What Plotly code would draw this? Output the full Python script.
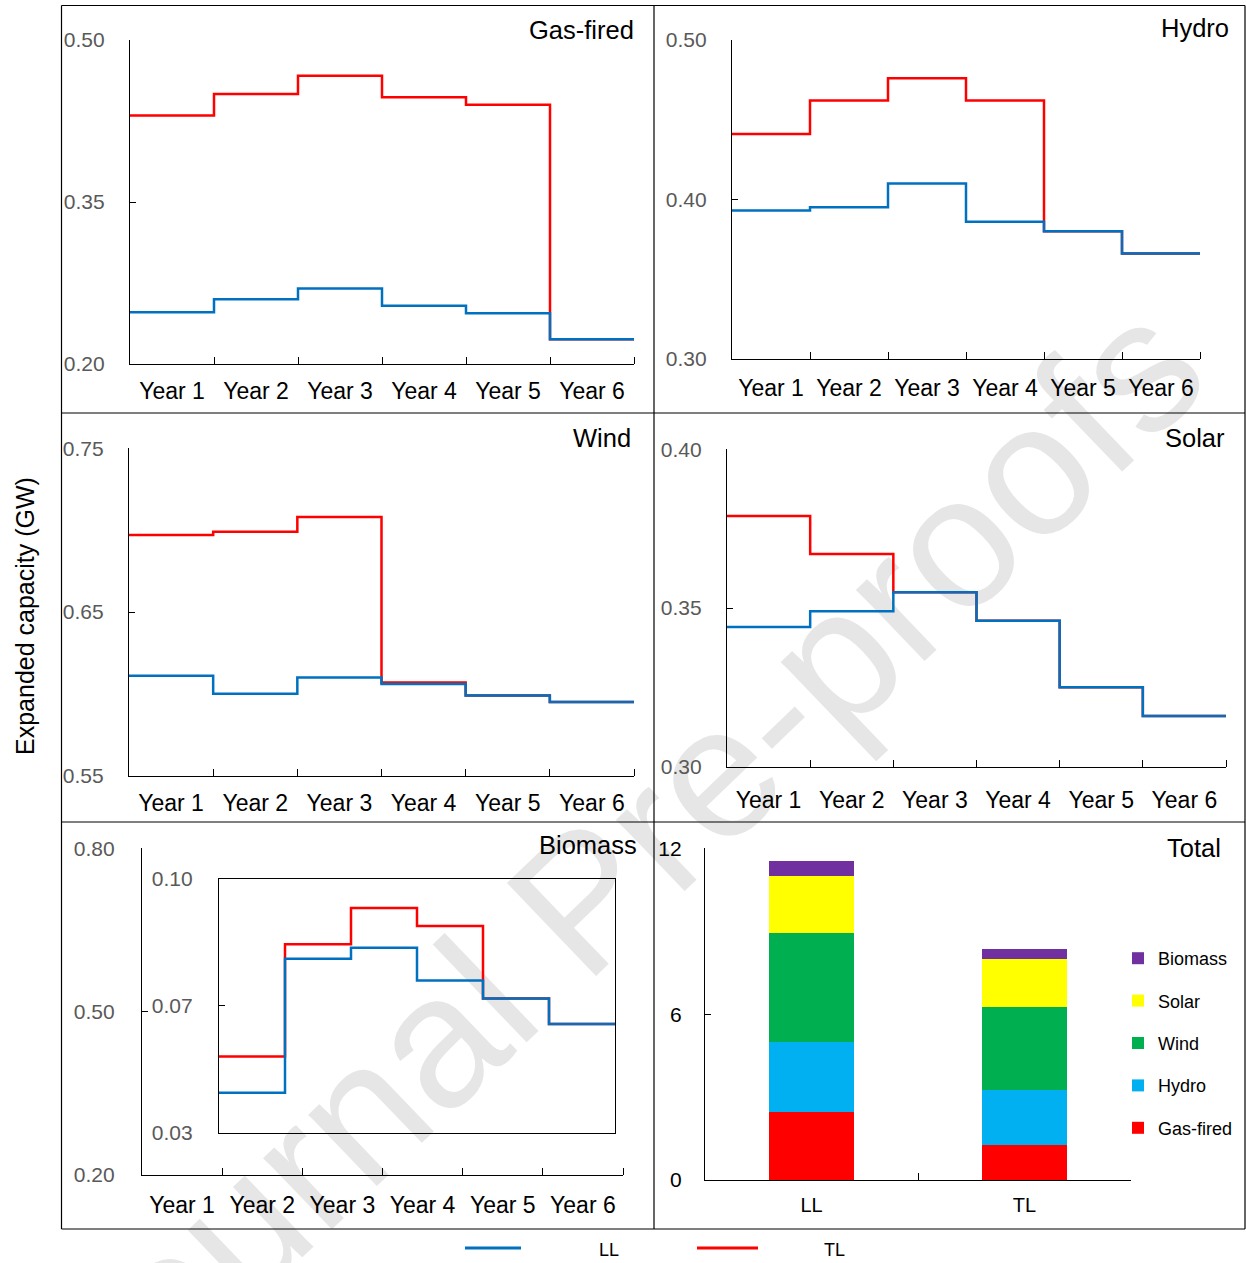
import plotly.graph_objects as go

# ---------------- data ----------------
years = ["Year 1", "Year 2", "Year 3", "Year 4", "Year 5", "Year 6"]

gas_ll = [0.248, 0.260, 0.270, 0.254, 0.247, 0.223]
gas_tl = [0.430, 0.450, 0.467, 0.447, 0.440, 0.223]
hydro_ll = [0.393, 0.395, 0.410, 0.386, 0.380, 0.366]
hydro_tl = [0.441, 0.462, 0.476, 0.462, 0.380, 0.366]
wind_ll = [0.611, 0.600, 0.610, 0.606, 0.599, 0.595]
wind_tl = [0.697, 0.699, 0.708, 0.607, 0.599, 0.595]
solar_ll = [0.344, 0.349, 0.355, 0.346, 0.325, 0.316]
solar_tl = [0.379, 0.367, 0.355, 0.346, 0.325, 0.316]
bio_ll = [0.041, 0.078, 0.081, 0.072, 0.067, 0.060]
bio_tl = [0.051, 0.082, 0.092, 0.087, 0.067, 0.060]

gas_ticks = [0.20, 0.35, 0.50]
hydro_ticks = [0.30, 0.40, 0.50]
wind_ticks = [0.55, 0.65, 0.75]
solar_ticks = [0.30, 0.35, 0.40]
bio_outer_ticks = [0.20, 0.50, 0.80]
bio_inner_ticks = [0.03, 0.065, 0.10]
bio_inner_ticktext = ["0.03", "0.07", "0.10"]
total_ticks = [0, 6, 12]

scenarios = ["LL", "TL"]
total_gas = [2.46, 1.26]
total_hydro = [2.55, 1.98]
total_wind = [3.92, 3.03]
total_solar = [2.08, 1.73]
total_bio = [0.53, 0.35]

# ---------------- style ----------------
W, H = 1246, 1263
FONT = "Liberation Sans, Arial, sans-serif"
C_LL = "#0070C0"
C_TL = "#FF0000"
GRAY = "#595959"
tech_colors = {"Gas-fired": "#FF0000", "Hydro": "#00B0F0", "Wind": "#00B050",
               "Solar": "#FFFF00", "Biomass": "#7030A0"}


def xd(a, b):
    return [a / W, b / W]


def yd(top, bottom):
    return [1 - bottom / H, 1 - top / H]


def step_xy(vals):
    xs = list(range(len(vals) + 1))
    ys = list(vals) + [vals[-1]]
    return xs, ys


fig = go.Figure()

panels = [
    # name, ll, tl, ticks, x box, y box, label standoff
    ("Gas-fired", gas_ll, gas_tl, gas_ticks, (130, 634), (40, 364), 6),
    ("Hydro", hydro_ll, hydro_tl, hydro_ticks, (732, 1200), (40, 358.7), 9),
    ("Wind", wind_ll, wind_tl, wind_ticks, (129, 634), (448.3, 775.7), 7),
    ("Solar", solar_ll, solar_tl, solar_ticks, (727, 1226), (449.3, 766.7), 13),
]

layout_axes = {}
n_cat = len(years)
label_pos = [i + 0.5 for i in range(n_cat)]
bound_pos = list(range(1, n_cat + 1))


def step_xaxis(dom, anchor, standoff, show=True):
    return dict(domain=dom, anchor=anchor, range=[0, n_cat], tickmode="array",
                tickvals=label_pos, ticktext=years, ticks="",
                showticklabels=show,
                showline=True, linecolor="black", linewidth=1.3,
                showgrid=False, zeroline=False,
                tickfont=dict(size=23, color="black", family=FONT),
                ticklabelstandoff=standoff,
                minor=dict(tickmode="array", tickvals=bound_pos, ticks="inside",
                           ticklen=7, tickwidth=1.3, tickcolor="black",
                           showgrid=False),
                fixedrange=True)


def yaxis_def(dom, anchor, rng, tickvals, ticktext=None, color=GRAY, standoff=20):
    d = dict(domain=dom, anchor=anchor, range=rng, tickmode="array",
             tickvals=tickvals, ticks="inside", ticklen=6, tickwidth=1.3,
             tickcolor="black", showline=True, linecolor="black", linewidth=1.3,
             showgrid=False, zeroline=False,
             tickfont=dict(size=21, color=color, family=FONT),
             ticklabelstandoff=standoff, fixedrange=True)
    if ticktext is not None:
        d["ticktext"] = ticktext
    else:
        d["tickformat"] = ".2f"
    return d


for i, (name, ll, tl, ticks, xb, yb, so) in enumerate(panels, start=1):
    sfx = "" if i == 1 else str(i)
    xs, ys_tl = step_xy(tl)
    _, ys_ll = step_xy(ll)
    fig.add_trace(go.Scatter(x=xs, y=ys_tl, mode="lines", line=dict(color=C_TL, width=2.5, shape="hv"),
                             xaxis="x" + sfx, yaxis="y" + sfx, showlegend=False, name="TL"))
    fig.add_trace(go.Scatter(x=xs, y=ys_ll, mode="lines", line=dict(color=C_LL, width=2.5, shape="hv"),
                             xaxis="x" + sfx, yaxis="y" + sfx, showlegend=False, name="LL"))
    layout_axes["xaxis" + sfx] = step_xaxis(xd(*xb), "y" + sfx, so)
    layout_axes["yaxis" + sfx] = yaxis_def(yd(*yb), "x" + sfx, [ticks[0], ticks[-1]], ticks)

# Biomass outer frame (axes only)
fig.add_trace(go.Scatter(x=[0], y=[bio_outer_ticks[0]], mode="markers", marker=dict(opacity=0),
                         xaxis="x5", yaxis="y5", showlegend=False, hoverinfo="skip"))
layout_axes["xaxis5"] = step_xaxis(xd(142, 623), "y5", 9)
layout_axes["yaxis5"] = yaxis_def(yd(848.3, 1175), "x5", [bio_outer_ticks[0], bio_outer_ticks[-1]],
                                  bio_outer_ticks, standoff=22)

# Biomass inset
xs, ys_tl = step_xy(bio_tl)
_, ys_ll = step_xy(bio_ll)
fig.add_trace(go.Scatter(x=xs, y=ys_tl, mode="lines", line=dict(color=C_TL, width=2.5, shape="hv"),
                         xaxis="x6", yaxis="y6", showlegend=False, name="TL"))
fig.add_trace(go.Scatter(x=xs, y=ys_ll, mode="lines", line=dict(color=C_LL, width=2.5, shape="hv"),
                         xaxis="x6", yaxis="y6", showlegend=False, name="LL"))
layout_axes["xaxis6"] = dict(domain=xd(219, 615), anchor="y6", range=[0, n_cat], showticklabels=False,
                             ticks="", showline=True, mirror=True, linecolor="black", linewidth=1.3,
                             showgrid=False, zeroline=False, fixedrange=True)
y6 = yaxis_def(yd(879, 1132.7), "x6", [bio_inner_ticks[0], bio_inner_ticks[-1]], bio_inner_ticks,
               ticktext=bio_inner_ticktext, standoff=21)
y6["mirror"] = True
layout_axes["yaxis6"] = y6

# Total stacked bars
stack = [("Gas-fired", total_gas), ("Hydro", total_hydro), ("Wind", total_wind),
         ("Solar", total_solar), ("Biomass", total_bio)]
for k, (name, vals) in enumerate(stack):
    fig.add_trace(go.Bar(x=scenarios, y=vals, name=name, marker=dict(color=tech_colors[name], line=dict(width=0)),
                         xaxis="x7", yaxis="y7", legendgroup=name, legendrank=len(stack) - k,
                         showlegend=True))
layout_axes["xaxis7"] = dict(domain=xd(705, 1131), anchor="y7", type="category", range=[-0.5, 1.5],
                             tickson="boundaries", ticks="inside", ticklen=7, tickwidth=1.3, tickcolor="black",
                             showline=True, linecolor="black", linewidth=1.3, showgrid=False, zeroline=False,
                             tickfont=dict(size=20, color="black", family=FONT), ticklabelstandoff=7,
                             fixedrange=True)
layout_axes["yaxis7"] = yaxis_def(yd(848.3, 1180), "x7", [0, 12], total_ticks, color="black", standoff=18)
layout_axes["yaxis7"]["tickformat"] = "d"

fig.update_layout(**layout_axes)

# panel titles
titles = [("Gas-fired", 636, 30), ("Hydro", 1231, 28), ("Wind", 633, 438), ("Solar", 1227, 438),
          ("Biomass", 639, 845), ("Total", 1223, 848)]
annotations = []
for t, px, py in titles:
    annotations.append(dict(text=t, x=px / W, y=1 - py / H, xref="paper", yref="paper",
                            xanchor="right", yanchor="middle", showarrow=False,
                            font=dict(size=25.5, color="black", family=FONT)))
annotations.append(dict(text="Expanded capacity (GW)", x=25 / W, y=1 - 616 / H, xref="paper", yref="paper",
                        textangle=-90, xanchor="center", yanchor="middle", showarrow=False,
                        font=dict(size=25, color="black", family=FONT)))
# bottom legend texts
annotations.append(dict(text="LL", x=597 / W, y=1 - 1250 / H, xref="paper", yref="paper", xanchor="left",
                        yanchor="middle", showarrow=False, font=dict(size=18, color="black", family=FONT)))
annotations.append(dict(text="TL", x=822 / W, y=1 - 1250 / H, xref="paper", yref="paper", xanchor="left",
                        yanchor="middle", showarrow=False, font=dict(size=18, color="black", family=FONT)))

shapes = []
# panel frame
for (x0, y0, x1, y1) in [(61.5, 5.5, 1245, 5.5), (61.5, 1229, 1245, 1229), (61.5, 5.5, 61.5, 1229),
                         (1245, 5.5, 1245, 1229), (654, 5.5, 654, 1229), (61.5, 413, 1245, 413),
                         (61.5, 822, 1245, 822)]:
    shapes.append(dict(type="line", xref="paper", yref="paper", x0=x0 / W, x1=x1 / W,
                       y0=1 - y0 / H, y1=1 - y1 / H, line=dict(color="black", width=1.2)))
# bottom legend line samples
shapes.append(dict(type="line", xref="paper", yref="paper", x0=465 / W, x1=521 / W,
                   y0=1 - 1248 / H, y1=1 - 1248 / H, line=dict(color=C_LL, width=3)))
shapes.append(dict(type="line", xref="paper", yref="paper", x0=697 / W, x1=758 / W,
                   y0=1 - 1248 / H, y1=1 - 1248 / H, line=dict(color=C_TL, width=3)))
# watermark
cx, cy, L = 603, 855, 400
dx, dy = 0.722, -0.692
shapes.append(dict(type="line", xref="paper", yref="paper", layer="below",
                   x0=(cx - L * dx) / W, y0=1 - (cy - L * dy) / H,
                   x1=(cx + L * dx) / W, y1=1 - (cy + L * dy) / H,
                   line=dict(color="rgba(0,0,0,0)", width=1),
                   label=dict(text="Journal Pre-proofs", textposition="middle", yanchor="middle", padding=0,
                              font=dict(size=187, color="#E6E6E6", family=FONT))))

fig.update_layout(
    width=W, height=H, margin=dict(l=0, r=0, t=0, b=0, autoexpand=False),
    paper_bgcolor="white", plot_bgcolor="rgba(0,0,0,0)",
    barmode="stack", bargap=0.6,
    font=dict(family=FONT, color="black"),
    annotations=annotations, shapes=shapes,
    showlegend=True,
    legend=dict(x=1118 / W, y=1 - 940 / H, xanchor="left", yanchor="top",
                traceorder="grouped", tracegroupgap=16, itemwidth=30,
                bgcolor="rgba(0,0,0,0)", font=dict(size=18, color="black", family=FONT)),
    hovermode=False,
)

fig.write_html("out.html")
